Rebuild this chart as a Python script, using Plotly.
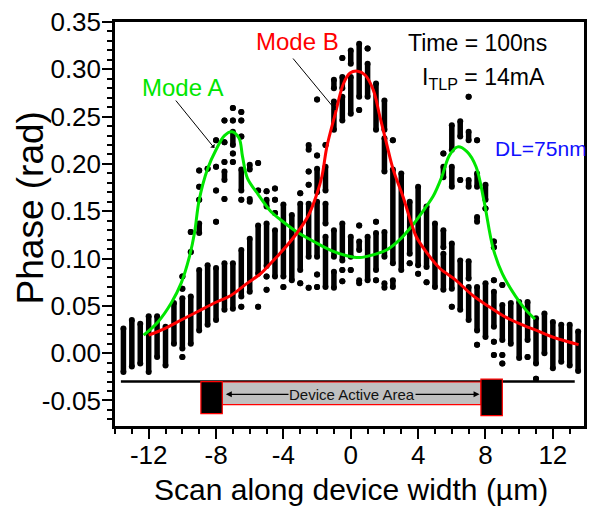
import plotly.graph_objects as go

# Scan positions of the measured columns (µm)
scan_x = [-13.5, -13.0, -12.5, -12.0, -11.5, -11.0, -10.5, -10.0, -9.5, -9.0,
          -8.5, -8.0, -7.5, -7.0, -6.5, -6.0, -5.5, -5.0, -4.5, -4.0,
          -3.5, -3.0, -2.5, -2.0, -1.5, -1.0, -0.5, 0.0, 0.5, 1.0,
          1.5, 2.0, 2.5, 3.0, 3.5, 4.0, 4.5, 5.0, 5.5, 6.0,
          6.5, 7.0, 7.5, 8.0, 8.5, 9.0, 9.5, 10.0, 10.5, 11.0,
          11.5, 12.0, 12.5, 13.0, 13.5]

# Measured phase at each scan position (rad): every (lo, hi) pair is a stack of
# overlapping points from lo to hi; lo == hi is a single point
phase_runs = [
    [(-0.020, 0.026)],
    [(-0.014, 0.035)],
    [(-0.011, 0.031)],
    [(-0.020, 0.039)],
    [(-0.004, 0.039)],
    [(-0.013, 0.028)],
    [(0.010, 0.053)],
    [(-0.004, -0.004), (0.005, 0.058), (0.068, 0.068), (0.081, 0.081)],
    [(0.010, 0.060), (0.107, 0.107), (0.128, 0.128)],
    [(0.024, 0.088), (0.127, 0.137), (0.162, 0.162), (0.176, 0.176), (0.193, 0.193)],
    [(0.030, 0.093), (0.195, 0.195)],
    [(0.035, 0.090), (0.139, 0.139), (0.172, 0.172), (0.197, 0.197), (0.225, 0.225)],
    [(0.046, 0.095), (0.163, 0.163), (0.183, 0.192), (0.202, 0.202), (0.223, 0.223), (0.246, 0.246)],
    [(0.047, 0.095), (0.202, 0.202), (0.211, 0.211), (0.220, 0.234), (0.246, 0.246), (0.259, 0.259)],
    [(0.049, 0.049), (0.060, 0.109), (0.162, 0.162), (0.172, 0.194), (0.229, 0.229), (0.246, 0.246), (0.255, 0.255)],
    [(0.065, 0.121), (0.160, 0.163), (0.194, 0.199)],
    [(0.049, 0.049), (0.084, 0.135), (0.172, 0.172), (0.201, 0.201)],
    [(0.067, 0.067), (0.081, 0.081), (0.092, 0.137), (0.155, 0.162), (0.171, 0.171)],
    [(0.081, 0.130), (0.148, 0.148), (0.162, 0.162), (0.174, 0.174)],
    [(0.070, 0.070), (0.081, 0.157)],
    [(0.077, 0.146)],
    [(0.074, 0.074), (0.088, 0.158), (0.169, 0.169)],
    [(0.069, 0.069), (0.102, 0.158), (0.178, 0.178), (0.192, 0.192), (0.215, 0.220)],
    [(0.070, 0.070), (0.083, 0.083), (0.102, 0.160), (0.170, 0.195), (0.209, 0.209), (0.268, 0.268)],
    [(0.070, 0.123), (0.137, 0.158), (0.172, 0.197), (0.220, 0.220)],
    [(0.069, 0.086), (0.102, 0.130), (0.236, 0.266), (0.280, 0.289)],
    [(0.076, 0.076), (0.088, 0.088), (0.098, 0.137), (0.246, 0.271), (0.280, 0.292), (0.312, 0.312)],
    [(0.088, 0.088), (0.102, 0.123), (0.253, 0.292), (0.306, 0.320)],
    [(0.074, 0.077), (0.109, 0.118), (0.135, 0.135), (0.257, 0.257), (0.271, 0.327)],
    [(0.077, 0.123), (0.271, 0.306), (0.322, 0.322)],
    [(0.077, 0.077), (0.088, 0.127), (0.139, 0.139), (0.236, 0.285)],
    [(0.069, 0.074), (0.102, 0.128), (0.192, 0.227), (0.236, 0.267)],
    [(0.070, 0.077), (0.095, 0.194), (0.225, 0.225)],
    [(0.088, 0.190)],
    [(0.095, 0.095), (0.105, 0.160)],
    [(0.084, 0.084), (0.093, 0.176)],
    [(0.075, 0.075), (0.091, 0.155)],
    [(0.070, 0.137)],
    [(0.067, 0.105), (0.112, 0.130), (0.186, 0.197), (0.211, 0.211)],
    [(0.049, 0.049), (0.068, 0.116), (0.176, 0.197), (0.215, 0.241)],
    [(0.046, 0.098), (0.183, 0.183), (0.229, 0.245)],
    [(0.035, 0.070), (0.079, 0.097), (0.176, 0.183), (0.225, 0.234), (0.271, 0.271)],
    [(0.009, 0.009), (0.024, 0.070), (0.139, 0.144), (0.176, 0.190), (0.225, 0.225)],
    [(0.017, 0.074), (0.153, 0.153), (0.162, 0.178)],
    [(-0.002, -0.002), (0.012, 0.012), (0.028, 0.065), (0.077, 0.077), (0.112, 0.112), (0.118, 0.118)],
    [(-0.011, -0.011), (-0.002, -0.002), (0.014, 0.051), (0.072, 0.072)],
    [(0.010, 0.053)],
    [(-0.005, 0.054)],
    [(-0.004, -0.004), (0.014, 0.054)],
    [(-0.027, -0.027), (-0.011, 0.037)],
    [(0.000, 0.042)],
    [(-0.016, 0.033)],
    [(-0.009, 0.030)],
    [(-0.013, 0.030)],
    [(-0.019, 0.023)],
]

# Fitted profile of Mode A (two side peaks)
mode_a_x = [-12.3, -11.45, -10.66, -10.07, -9.58, -9.28, -9.0, -8.5, -8.0, -7.5,
            -7.05, -6.63, -6.43, -6.14, -5.55, -4.76, -4.17, -3.19, -2.2, -1.22,
            -0.24, 0.55, 1.34, 2.12, 2.91, 3.7, 4.48, 4.9, 5.4, 5.86,
            6.35, 6.9, 7.44, 7.9, 8.45, 9.0, 9.79, 10.38, 10.94]
mode_a_y = [0.019, 0.033, 0.053, 0.074, 0.102, 0.127, 0.162, 0.195, 0.215, 0.230,
            0.234, 0.227, 0.208, 0.185, 0.169, 0.150, 0.141, 0.128, 0.118, 0.109,
            0.103, 0.101, 0.104, 0.109, 0.120, 0.136, 0.155, 0.166, 0.186, 0.209,
            0.218, 0.213, 0.197, 0.162, 0.111, 0.084, 0.060, 0.046, 0.036]

# Fitted profile of Mode B (central peak)
mode_b_x = [-12.0, -11.05, -10.07, -9.08, -8.1, -7.12, -6.14, -5.35, -4.86, -4.17,
            -3.19, -2.5, -2.0, -1.71, -1.42, -0.92, -0.43, -0.04, 0.41, 0.85,
            1.34, 1.73, 2.12, 2.52, 3.11, 3.6, 3.89, 4.48, 5.27, 6.25,
            7.24, 8.22, 9.2, 10.19, 11.17, 12.15, 13.53]
mode_b_y = [0.019, 0.026, 0.035, 0.044, 0.053, 0.061, 0.074, 0.084, 0.093, 0.106,
            0.127, 0.146, 0.169, 0.187, 0.218, 0.253, 0.285, 0.296, 0.298, 0.294,
            0.278, 0.250, 0.222, 0.194, 0.165, 0.137, 0.123, 0.107, 0.090, 0.077,
            0.061, 0.049, 0.038, 0.030, 0.023, 0.016, 0.009]

x_tick_vals = [-12, -8, -4, 0, 4, 8, 12]
x_tick_text = ["-12", "-8", "-4", "0", "4", "8", "12"]
y_tick_vals = [-0.05, 0.00, 0.05, 0.10, 0.15, 0.20, 0.25, 0.30, 0.35]
y_tick_text = ["-0.05", "0.00", "0.05", "0.10", "0.15", "0.20", "0.25", "0.30", "0.35"]

# Device outline drawn under the profile (µm / rad)
active_left, active_right = -7.63, 7.73
pad_left = (-8.9, -7.63)
pad_right = (7.73, 9.0)
baseline_y = -0.03

FONT = "Liberation Sans, Arial, sans-serif"
GREEN = "#00e600"
RED = "#ff0000"

# Each run becomes a short vertical segment capped with round points
dot_x, dot_y = [], []
for x, runs in zip(scan_x, phase_runs):
    for lo, hi in runs:
        dot_x += [x, x, None]
        dot_y += [lo, hi, None]

fig = go.Figure()
fig.add_trace(go.Scatter(
    x=dot_x, y=dot_y, mode="lines+markers",
    line=dict(color="black", width=5.5),
    marker=dict(color="black", size=6),
    hoverinfo="skip", showlegend=False))
fig.add_trace(go.Scatter(
    x=mode_a_x, y=mode_a_y, mode="lines",
    line=dict(color=GREEN, width=3, shape="spline"), showlegend=False))
fig.add_trace(go.Scatter(
    x=mode_b_x, y=mode_b_y, mode="lines",
    line=dict(color=RED, width=3, shape="spline"), showlegend=False))

shapes = [
    dict(type="line", x0=-13.65, x1=13.3, y0=baseline_y, y1=baseline_y,
         line=dict(color="black", width=2.5)),
    dict(type="rect", x0=active_left, x1=active_right, y0=-0.0545, y1=-0.0305,
         fillcolor="#c0c0c0", line=dict(color=RED, width=1.2)),
    dict(type="rect", x0=pad_left[0], x1=pad_left[1], y0=-0.064, y1=-0.030,
         fillcolor="black", line=dict(color=RED, width=1.2)),
    dict(type="rect", x0=pad_right[0], x1=pad_right[1], y0=-0.066, y1=-0.0275,
         fillcolor="black", line=dict(color=RED, width=1.2)),
]

annotations = [
    # double-headed arrow across the active area
    dict(x=active_right - 0.08, y=-0.0435, ax=active_left + 0.12, ay=-0.0435,
         xref="x", yref="y", axref="x", ayref="y", text="", showarrow=True,
         arrowside="end+start", arrowhead=2, arrowsize=1, arrowwidth=1.2,
         arrowcolor="black"),
    dict(x=0.1, y=-0.0435, xref="x", yref="y", text="Device Active Area",
         showarrow=False, bgcolor="#c0c0c0", borderpad=0,
         font=dict(family=FONT, size=15, color="#111111")),
    # mode labels with pointers
    dict(x=-12.53, y=0.2813, xref="x", yref="y", text="Mode A", showarrow=False,
         xanchor="left", font=dict(family=FONT, size=24, color=GREEN)),
    dict(x=-8.1, y=0.2168, ax=-10.46, ay=0.2686, xref="x", yref="y",
         axref="x", ayref="y", text="", showarrow=True, arrowhead=1,
         arrowsize=1, arrowwidth=1, arrowcolor="black"),
    dict(x=-3.14, y=0.3289, xref="x", yref="y", text="Mode B", showarrow=False,
         font=dict(family=FONT, size=24, color=RED)),
    dict(x=-0.9, y=0.257, ax=-3.5, ay=0.313, xref="x", yref="y",
         axref="x", ayref="y", text="", showarrow=True, arrowhead=1,
         arrowsize=1, arrowwidth=1, arrowcolor="black"),
    # measurement conditions
    dict(x=7.53, y=0.3278, xref="x", yref="y", text="Time = 100ns",
         showarrow=False, font=dict(family=FONT, size=23, color="black")),
    dict(x=4.11, y=0.2908, xref="x", yref="y", xanchor="left",
         text="I<sub>TLP</sub> = 14mA", showarrow=False,
         font=dict(family=FONT, size=23, color="black")),
    dict(x=8.45, y=0.2168, xref="x", yref="y", xanchor="left", text="DL=75nm",
         showarrow=False, font=dict(family=FONT, size=21, color="#1010ff")),
    # axis titles
    dict(x=-0.18, y=0.54, xref="paper", yref="paper", text="Phase (rad)",
         textangle=-90, showarrow=False, xanchor="center", yanchor="middle",
         font=dict(family=FONT, size=37, color="black")),
    dict(x=0.504, y=-0.158, xref="paper", yref="paper",
         text="Scan along device width (µm)", showarrow=False,
         xanchor="center", yanchor="middle",
         font=dict(family=FONT, size=30, color="black")),
]

fig.update_layout(
    width=589, height=512,
    margin=dict(l=115, r=2, t=22, b=86),
    paper_bgcolor="white", plot_bgcolor="white",
    font=dict(family=FONT, color="black"),
    shapes=shapes, annotations=annotations,
    xaxis=dict(
        range=[-14, 13.85], tickmode="array", tickvals=x_tick_vals,
        ticktext=x_tick_text, ticks="outside", ticklen=10, tickwidth=2,
        tickcolor="black", tickfont=dict(family=FONT, size=26),
        ticklabelstandoff=-6,
        minor=dict(tickmode="linear", tick0=0, dtick=1, ticks="outside",
                   ticklen=5, tickwidth=1.5, tickcolor="black"),
        showline=True, linewidth=2.5, linecolor="black", mirror=True,
        showgrid=False, zeroline=False),
    xaxis2=dict(
        range=[-14, 13.85], overlaying="x", side="top", tickmode="linear",
        tick0=0, dtick=1, ticks="inside", ticklen=3, tickwidth=1,
        tickcolor="black", showticklabels=False, showline=False,
        showgrid=False, zeroline=False),
    yaxis=dict(
        range=[-0.077, 0.35], tickmode="array", tickvals=y_tick_vals,
        ticktext=y_tick_text, ticks="outside", ticklen=10, tickwidth=2,
        tickcolor="black", tickfont=dict(family=FONT, size=26),
        ticklabelstandoff=-4,
        minor=dict(tickmode="linear", tick0=0, dtick=0.01, ticks="outside",
                   ticklen=5, tickwidth=1.5, tickcolor="black"),
        showline=True, linewidth=2.5, linecolor="black", mirror=True,
        showgrid=False, zeroline=False),
)

fig.write_html("out.html")
